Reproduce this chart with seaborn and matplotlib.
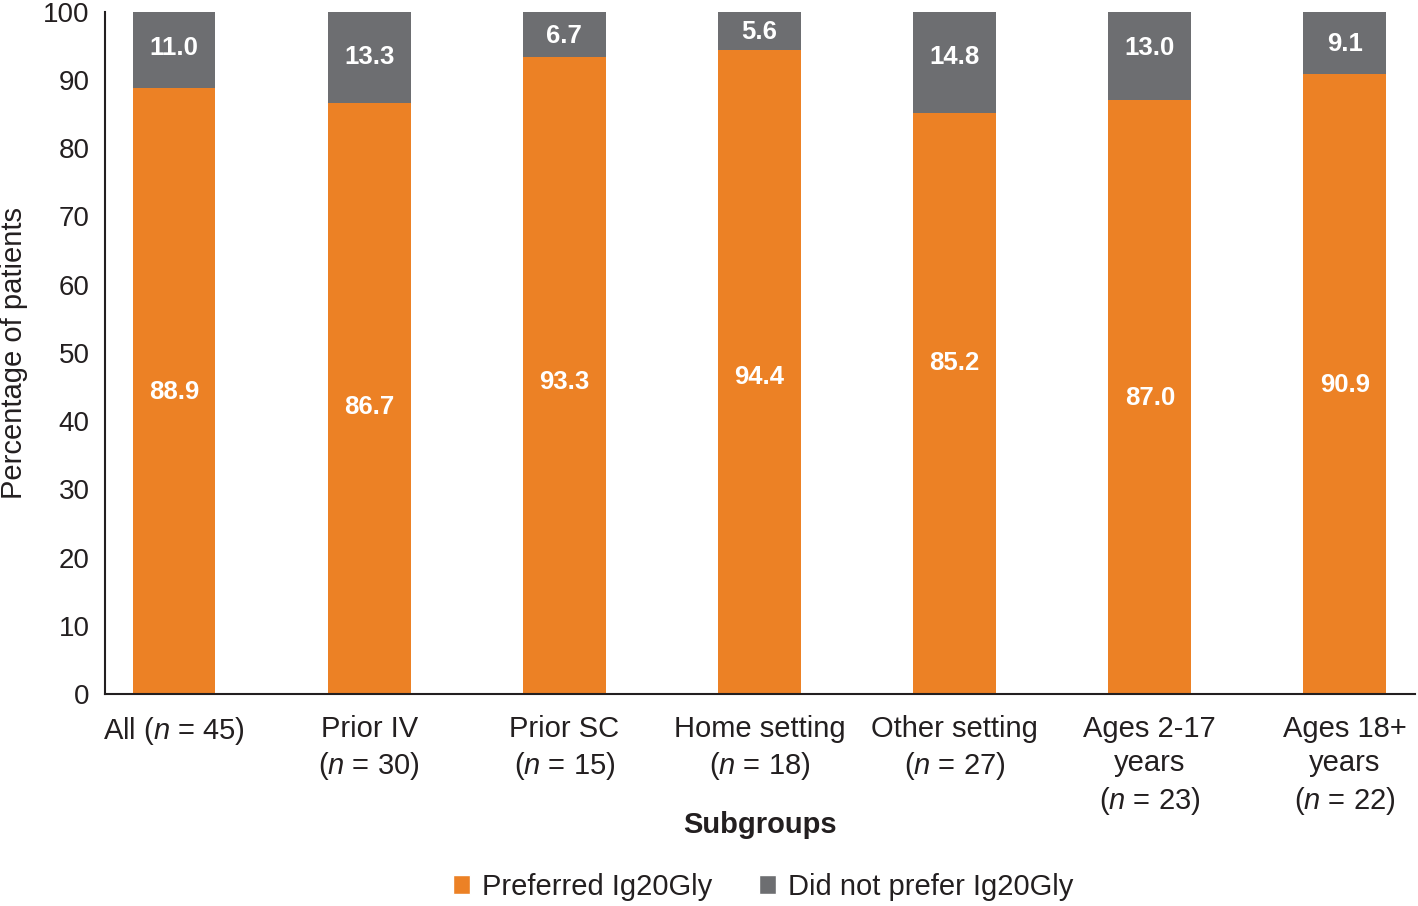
import matplotlib
matplotlib.use("Agg")
import matplotlib.pyplot as plt
import seaborn as sns
import pandas as pd
from matplotlib.patches import Patch

categories = ["All", "Prior IV", "Prior SC", "Home setting", "Other setting",
              "Ages 2-17 years", "Ages 18+ years"]
tick_labels = [r"All ($\it{n}$ = 45)",
               "Prior IV\n" + r"($\it{n}$ = 30)",
               "Prior SC\n" + r"($\it{n}$ = 15)",
               "Home setting\n" + r"($\it{n}$ = 18)",
               "Other setting\n" + r"($\it{n}$ = 27)",
               "Ages 2-17\nyears\n" + r"($\it{n}$ = 23)",
               "Ages 18+\nyears\n" + r"($\it{n}$ = 22)"]
preferred = [88.9, 86.7, 93.3, 94.4, 85.2, 87.0, 90.9]
not_preferred = [11.0, 13.3, 6.7, 5.6, 14.8, 13.0, 9.1]

# annotation placement (as in the original figure)
pref_label_y = [44.3, 42.1, 45.7, 46.5, 48.5, 43.4, 45.3]
notpref_label_y = [94.7, 93.4, 96.5, 97.1, 93.4, 94.7, 95.3]

ORANGE = "#EC8125"
GRAY = "#6D6E71"
TXT = "#231F20"

sns.set_style("white")
plt.rcParams["font.family"] = ["Liberation Sans", "DejaVu Sans"]
plt.rcParams["mathtext.fontset"] = "custom"
plt.rcParams["mathtext.rm"] = "Liberation Sans"
plt.rcParams["mathtext.it"] = "Liberation Sans:italic"

df = pd.DataFrame({"cat": categories, "pref": preferred, "notpref": not_preferred})
df["total"] = df["pref"] + df["notpref"]

fig = plt.figure(figsize=(14.18, 9.06), dpi=100)
ax = fig.add_axes([0.074, 0.234, 0.924, 0.753])

sns.barplot(data=df, x="cat", y="total", color=GRAY, width=0.425,
            saturation=1, ax=ax, errorbar=None, linewidth=0)
sns.barplot(data=df, x="cat", y="pref", color=ORANGE, width=0.425,
            saturation=1, ax=ax, errorbar=None, linewidth=0)

for i, (p, q) in enumerate(zip(preferred, not_preferred)):
    ax.text(i, pref_label_y[i], f"{p:.1f}", ha="center", va="center", color="white",
            fontsize=18.5, fontweight="bold")
    ax.text(i, notpref_label_y[i], f"{q:.1f}", ha="center", va="center", color="white",
            fontsize=18.5, fontweight="bold")

ax.set_ylim(0, 100)
ax.set_xlim(-0.354, 6.36)
ax.set_yticks(range(0, 101, 10))
ax.tick_params(axis="y", labelsize=20, length=0, pad=11, colors=TXT)
ax.set_xticks(range(len(categories)))
ax.set_xticklabels(tick_labels, fontsize=21, color=TXT, linespacing=1.3)
ax.tick_params(axis="x", length=0, pad=15)

for s in ["top", "right"]:
    ax.spines[s].set_visible(False)
for s in ["left", "bottom"]:
    ax.spines[s].set_color(TXT)
    ax.spines[s].set_linewidth(1.5)

ax.set_ylabel("Percentage of patients", fontsize=21, color=TXT)
ax.yaxis.set_label_coords(-0.059, 0.5)
ax.set_xlabel("Subgroups", fontsize=21, fontweight="bold", color=TXT)
ax.xaxis.set_label_coords(0.5, -0.172)

handles = [Patch(facecolor=ORANGE, label="Preferred Ig20Gly"),
           Patch(facecolor=GRAY, label="Did not prefer Ig20Gly")]
fig.legend(handles=handles, loc="center", bbox_to_anchor=(0.538, 0.021),
           ncol=2, frameon=False, fontsize=21, handlelength=0.6, handleheight=0.6,
           handletextpad=0.4, columnspacing=1.6, labelcolor=TXT)

fig.savefig("out.png", dpi=100)
